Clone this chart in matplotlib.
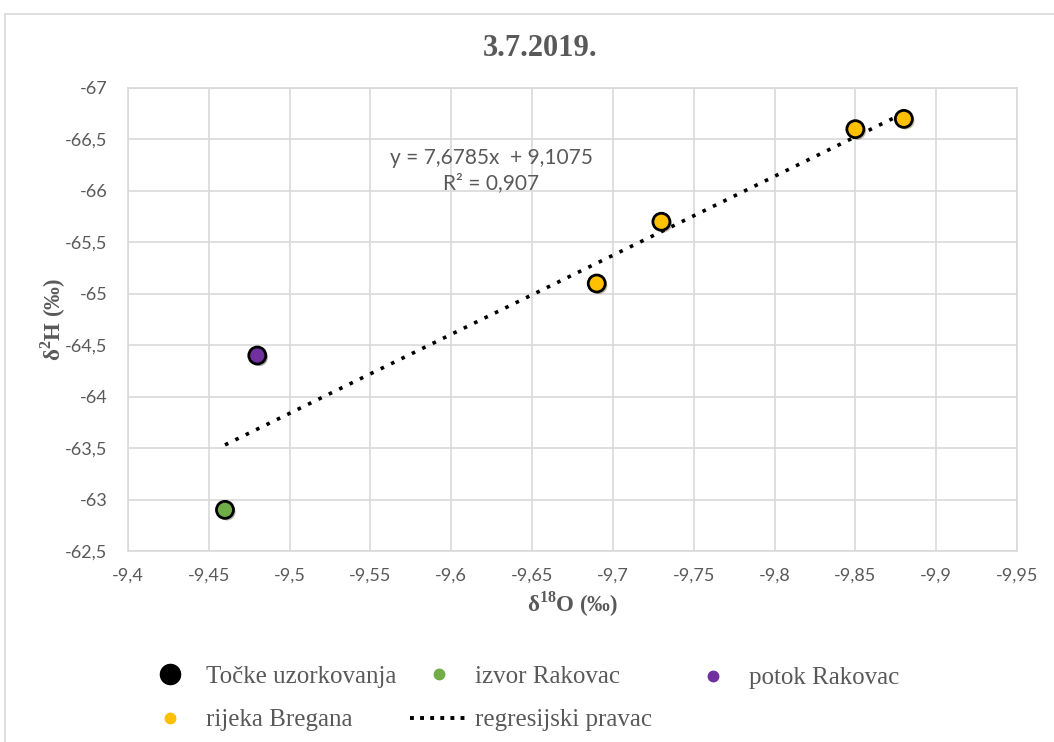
#!/usr/bin/env python3
import numpy as np
import matplotlib
matplotlib.use('Agg')
import matplotlib.pyplot as plt
from matplotlib.lines import Line2D
from matplotlib.patches import Rectangle
from matplotlib.ticker import FuncFormatter, MultipleLocator
import matplotlib.patheffects as pe

plt.rcParams['font.family'] = ['Liberation Serif', 'DejaVu Serif']
plt.rcParams['mathtext.fontset'] = 'custom'
plt.rcParams['mathtext.rm'] = 'Liberation Serif'
plt.rcParams['mathtext.bf'] = 'Liberation Serif:bold'

# data
izvor_x = [-9.46]
izvor_y = [-62.9]
potok_x = [-9.48]
potok_y = [-64.4]
bregana_x = [-9.69, -9.73, -9.85, -9.88]
bregana_y = [-65.1, -65.7, -66.6, -66.7]

slope = 7.6785
intercept = 9.1075
r2 = 0.907
fit_range = [-9.46, -9.88]

gray = '#595959'
grid_c = '#d9d9d9'
sans = ['Lato', 'DejaVu Sans']

W, H = 1054, 742
fig = plt.figure(figsize=(W/100, H/100), dpi=100)
fig.patches.append(Rectangle((5/W, -0.1), 1.2, (H-14)/H + 0.1,
                             transform=fig.transFigure, fill=False,
                             edgecolor=grid_c, lw=1.2))
ax = fig.add_axes([128/W, (H-551)/H, (1017-128)/W, (551-88)/H])

# regression line
fx = np.array(fit_range)
ax.plot(fx, slope*fx + intercept, ls=(0, (1, 2.2)), color='black', lw=2.6,
        zorder=2)

shadow = [pe.SimplePatchShadow(offset=(1.5, -1.5), alpha=0.35), pe.Normal()]
kw = dict(s=150, edgecolors='black', linewidths=2, zorder=3, path_effects=shadow)
ax.scatter(izvor_x, izvor_y, c='#70ad47', **kw)
ax.scatter(potok_x, potok_y, c='#7030a0', **kw)
ax.scatter(bregana_x, bregana_y, c='#ffc000', **kw)

ax.set_xlim(-9.4, -9.95)
ax.set_ylim(-62.5, -67)
ax.xaxis.set_major_locator(MultipleLocator(0.05))
ax.yaxis.set_major_locator(MultipleLocator(0.5))
fmt = FuncFormatter(lambda v, p: f'{v:.2f}'.rstrip('0').rstrip('.').replace('.', ','))
ax.xaxis.set_major_formatter(fmt)
ax.yaxis.set_major_formatter(fmt)
ax.tick_params(length=0, labelsize=13, labelcolor=gray)
ax.tick_params(axis='y', pad=15)
ax.tick_params(axis='x', pad=12)
for lab in ax.get_xticklabels() + ax.get_yticklabels():
    lab.set_family(sans)
ax.grid(True, color=grid_c, lw=1.2)
ax.set_axisbelow(True)
for s in ax.spines.values():
    s.set_color(grid_c)
    s.set_linewidth(1.2)

ax.text(-9.6246, -66.2, f'y = {slope:.4f}x  + {intercept:.4f}\nR² = {r2:.3f}'.replace('.', ','),
        ha='center', va='center', fontsize=15, color=gray, linespacing=1.35,
        family=sans)

ax.set_xlabel(r'δ$^{\mathbf{18}}$O (‰)', fontsize=16.5, fontweight='bold', color=gray, labelpad=4)
ax.set_ylabel(r'δ$^{\mathbf{2}}$H (‰)', fontsize=16.5, fontweight='bold', color=gray, labelpad=-2)
fig.text(540/W, 1 - 48/H, '3.7.2019.', ha='center', va='center',
         fontsize=22, fontweight='bold', color=gray)

# legend: three columns placed like the original
mk = dict(marker='o', ls='none')
columns = [
    ([Line2D([], [], color='black', markersize=14.5, **mk),
      Line2D([], [], color='#ffc000', markersize=7.5, **mk)],
     ['Točke uzorkovanja', 'rijeka Bregana'], 141, 698.5),
    ([Line2D([], [], color='#70ad47', markersize=7.5, **mk),
      Line2D([], [], color='black', ls=(0, (1, 1.6)), lw=2.8)],
     ['izvor Rakovac', 'regresijski pravac'], 410, 698.5),
    ([Line2D([], [], color='#7030a0', markersize=7.5, **mk)],
     ['potok Rakovac'], 684, 678),
]
for hs, ls, px, py in columns:
    fig.legend(hs, ls, loc='center left', bbox_to_anchor=(px/W, 1 - py/H),
               frameon=False, fontsize=18, labelcolor=gray, handlelength=2.3,
               handletextpad=0.3, labelspacing=0.83, borderpad=0,
               borderaxespad=0)

fig.savefig('out.png', dpi=100)
